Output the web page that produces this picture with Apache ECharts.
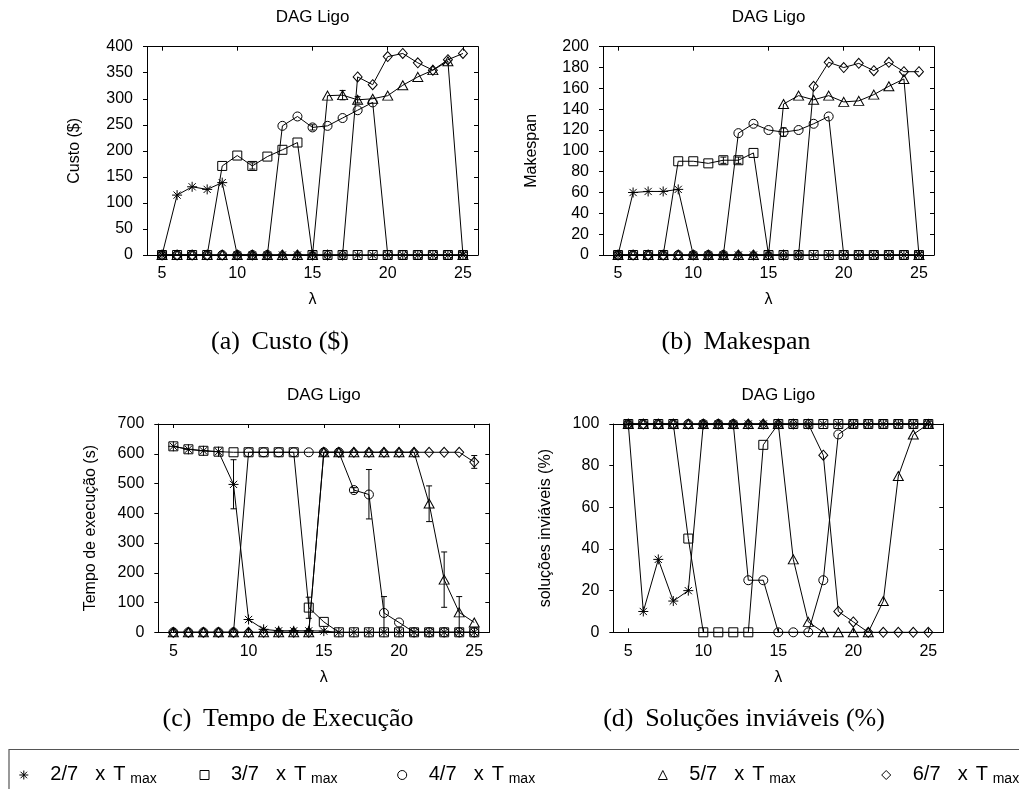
<!DOCTYPE html>
<html>
<head>
<meta charset="utf-8">
<script src="https://cdn.jsdelivr.net/npm/echarts@6/dist/echarts.min.js"></script>
<style>html,body{margin:0;padding:0;background:#fff}#chart{width:1019px;height:789px}</style>
</head>
<body>
<div id="chart"></div>
<script>
// ---------- data ----------
const lambdas = [5,6,7,8,9,10,11,12,13,14,15,16,17,18,19,20,21,22,23,24,25];
const xTickValues = [5,10,15,20,25];
const seriesNames = ['2/7 x Tmax','3/7 x Tmax','4/7 x Tmax','5/7 x Tmax','6/7 x Tmax'];
const legendFractions = ['2/7','3/7','4/7','5/7','6/7'];

// (a) Custo ($)
const custo27 = [0,115,131,126,139,0,0,0,0,0,0,0,0,0,0,0,0,0,0,0,0];
const custo37 = [0,0,0,0,171,191,171,189,202,216,0,0,0,0,0,0,0,0,0,0,0];
const custo47 = [0,0,0,0,0,0,0,0,248,266,245,248,263,278,293,0,0,0,0,0,0];
const custo57 = [0,0,0,0,0,0,0,0,0,0,0,306,307,298,300,306,326,342,355,372,0];
const custo67 = [0,0,0,0,0,0,0,0,0,0,0,0,0,342,327,381,387,369,355,375,387];
const custoErr = [[11,165,177],[17,298,316],[15,240,250],[18,292,304]];

// (b) Makespan
const makespan27 = [0,60,61,61,63,0,0,0,0,0,0,0,0,0,0,0,0,0,0,0,0];
const makespan37 = [0,0,0,0,90,90,88,91,91,98,0,0,0,0,0,0,0,0,0,0,0];
const makespan47 = [0,0,0,0,0,0,0,0,117,126,120,118,120,126,133,0,0,0,0,0,0];
const makespan57 = [0,0,0,0,0,0,0,0,0,0,0,145,153,149,153,147,148,154,162,169,0];
const makespan67 = [0,0,0,0,0,0,0,0,0,0,0,0,0,162,185,180,184,177,185,176,176];
const makespanErr = [[12,88,94],[16,114,122],[13,88,94]];

// (c) Tempo de execução (s)
const tempo27 = [625,615,610,607,497,43,10,5,5,5,4,0,0,0,0,0,0,0,0,0,0];
const tempo37 = [625,615,610,607,605,605,605,605,605,83,35,0,0,0,0,0,0,0,0,0,0];
const tempo47 = [0,0,0,0,0,605,605,605,605,605,605,605,478,463,65,33,0,0,0,0,0];
const tempo57 = [0,0,0,0,0,0,0,0,0,0,605,605,605,605,605,605,605,433,177,67,33];
const tempo67 = [0,0,0,0,0,0,0,0,0,0,605,605,605,605,605,605,605,605,605,605,572];
const tempoErr = [[9,415,580],[14,47,118],[17,470,486],[18,381,547],[19,0,120],[22,372,492],[23,84,270],[24,0,120],[25,551,594]];

// (d) Soluções inviáveis (%)
const inviaveis27 = [100,10,35,15,20,100,100,100,100,100,100,100,100,100,100,100,100,100,100,100,100];
const inviaveis37 = [100,100,100,100,45,0,0,0,0,90,100,100,100,100,100,100,100,100,100,100,100];
const inviaveis47 = [100,100,100,100,100,100,100,100,25,25,0,0,0,25,95,100,100,100,100,100,100];
const inviaveis57 = [100,100,100,100,100,100,100,100,100,100,100,35,5,0,0,0,0,15,75,95,100];
const inviaveis67 = [100,100,100,100,100,100,100,100,100,100,100,100,100,85,10,5,0,0,0,0,0];
const inviaveisErr = [];

// ---------- styling / layout ----------
const SANS = 'Liberation Sans, Arial, Helvetica, sans-serif';
const SERIF = 'Liberation Serif, Times New Roman, serif';
const starPath = 'path://M0,-1L0,1M-1,0L1,0M-0.72,-0.72L0.72,0.72M-0.72,0.72L0.72,-0.72';
const symbols = [starPath, 'rect', 'circle', 'triangle', 'diamond'];
const symbolSizes = [10, 9, 9, [10,9], [9,10]];

const panels = [
  {grid:{left:147, top:46.7, width:331, height:208.3}, yMax:400, yInt:50, yName:'Custo ($)', nameGap:64,
   series:[custo27,custo37,custo47,custo57,custo67], err:custoErr},
  {grid:{left:603, top:46.7, width:331, height:208.3}, yMax:200, yInt:20, yName:'Makespan', nameGap:63,
   series:[makespan27,makespan37,makespan47,makespan57,makespan67], err:makespanErr},
  {grid:{left:158.3, top:424, width:331, height:208.3}, yMax:700, yInt:100, yName:'Tempo de execução (s)', nameGap:60,
   series:[tempo27,tempo37,tempo47,tempo57,tempo67], err:tempoErr},
  {grid:{left:613.3, top:424, width:330, height:208.3}, yMax:100, yInt:20, yName:'soluções inviáveis (%)', nameGap:60,
   series:[inviaveis27,inviaveis37,inviaveis47,inviaveis57,inviaveis67], err:inviaveisErr}
];
const captions = [
  {text:'(a)\u2009 Custo ($)', x:280, y:342},
  {text:'(b)\u2009 Makespan', x:736, y:342},
  {text:'(c)\u2009 Tempo de Execução', x:288, y:719},
  {text:'(d)\u2009 Soluções inviáveis (%)', x:744, y:719}
];
const legendCenters = [23.3, 204, 401.7, 662.3, 885.7];

const black = '#000';
const grids = [], xAxes = [], yAxes = [], series = [], graphics = [];

panels.forEach((p, pi) => {
  grids.push(Object.assign({containLabel:false}, p.grid));
  const tickFont = {color:black, fontSize:16, fontFamily:SANS};
  xAxes.push({
    type:'value', gridIndex:pi, min:4, max:26, position:'bottom',
    axisLine:{show:true, onZero:false, lineStyle:{color:black, width:1}},
    axisTick:{show:true, inside:true, length:4, customValues:xTickValues, lineStyle:{color:black}},
    axisLabel:Object.assign({show:true, margin:11, customValues:xTickValues}, tickFont),
    splitLine:{show:false},
    name:'λ', nameLocation:'middle', nameGap:37,
    nameTextStyle:{color:black, fontSize:16, fontFamily:SANS}
  });
  xAxes.push({
    type:'value', gridIndex:pi, min:4, max:26, position:'top',
    axisLine:{show:true, onZero:false, lineStyle:{color:black, width:1}},
    axisTick:{show:true, inside:true, length:4, customValues:xTickValues, lineStyle:{color:black}},
    axisLabel:{show:false}, splitLine:{show:false}
  });
  yAxes.push({
    type:'value', gridIndex:pi, min:0, max:p.yMax, interval:p.yInt, position:'left',
    axisLine:{show:true, onZero:false, lineStyle:{color:black, width:1}},
    axisTick:{show:true, inside:false, length:4, lineStyle:{color:black}},
    axisLabel:Object.assign({show:true, margin:14}, tickFont),
    splitLine:{show:false},
    name:p.yName, nameLocation:'middle', nameGap:p.nameGap,
    nameTextStyle:{color:black, fontSize:16, fontFamily:SANS}
  });
  yAxes.push({
    type:'value', gridIndex:pi, min:0, max:p.yMax, interval:p.yInt, position:'right',
    axisLine:{show:true, onZero:false, lineStyle:{color:black, width:1}},
    axisTick:{show:true, inside:true, length:4, lineStyle:{color:black}},
    axisLabel:{show:false}, splitLine:{show:false}
  });

  p.series.forEach((arr, k) => {
    series.push({
      type:'line', name:seriesNames[k], xAxisIndex:2*pi, yAxisIndex:2*pi,
      data:lambdas.map((x, i) => [x, arr[i]]),
      symbol:symbols[k], symbolSize:symbolSizes[k], showSymbol:true, showAllSymbol:true,
      clip:false, animation:false,
      lineStyle:{color:black, width:1},
      itemStyle:{color:'rgba(0,0,0,0)', borderColor:black, borderWidth:1},
      emphasis:{disabled:true}, z:2+k
    });
  });

  if (p.err.length) {
    series.push({
      type:'custom', xAxisIndex:2*pi, yAxisIndex:2*pi, data:p.err, silent:true, animation:false, z:10,
      encode:{x:0, y:[1,2]},
      renderItem:(params, api) => {
        const x = api.value(0), lo = api.value(1), hi = api.value(2);
        const a = api.coord([x, lo]), b = api.coord([x, hi]);
        const w = 3, st = {stroke:black, lineWidth:1};
        return {type:'group', children:[
          {type:'line', shape:{x1:a[0], y1:a[1], x2:b[0], y2:b[1]}, style:st},
          {type:'line', shape:{x1:a[0]-w, y1:a[1], x2:a[0]+w, y2:a[1]}, style:st},
          {type:'line', shape:{x1:b[0]-w, y1:b[1], x2:b[0]+w, y2:b[1]}, style:st}
        ]};
      }
    });
  }

  graphics.push({
    type:'text', x:p.grid.left + p.grid.width/2, y:p.grid.top - 29,
    style:{text:'DAG Ligo', fill:black, font:'17px ' + SANS, align:'center', verticalAlign:'middle'}
  });
});

captions.forEach(c => {
  graphics.push({type:'text', x:c.x, y:c.y,
    style:{text:c.text, fill:black, font:'26px ' + SERIF, align:'center', verticalAlign:'middle'}});
});
graphics.push({type:'rect', shape:{x:9, y:749.5, width:1100, height:100},
  style:{fill:'none', stroke:'#555', lineWidth:1.2}});

const legends = seriesNames.map((n, k) => ({
  data:[{name:n, icon:symbols[k]}],
  left:legendCenters[k] - 4.5, top:760, padding:0, itemGap:0,
  itemWidth:9, itemHeight:9, selectedMode:false,
  itemStyle:{color:'rgba(0,0,0,0)', borderColor:black, borderWidth:1},
  formatter:() => '{a|' + legendFractions[k] + '}{b|x}{c|T}{s|max}',
  textStyle:{
    rich:{
      a:{fontSize:20, fontFamily:SANS, color:black, lineHeight:22, verticalAlign:'top', width:45, padding:[0,0,0,17]},
      b:{fontSize:20, fontFamily:SANS, color:black, lineHeight:22, verticalAlign:'top', width:18},
      c:{fontSize:20, fontFamily:SANS, color:black, lineHeight:22, verticalAlign:'top', width:17},
      s:{fontSize:14, fontFamily:SANS, color:black, lineHeight:14, verticalAlign:'bottom', padding:[12,0,0,0]}
    }
  }
}));

const chart = echarts.init(document.getElementById('chart'), null, {renderer:'canvas'});
chart.setOption({
  backgroundColor:'#fff',
  animation:false,
  grid:grids, xAxis:xAxes, yAxis:yAxes, series:series,
  legend:legends,
  graphic:graphics
});
</script>
</body>
</html>
